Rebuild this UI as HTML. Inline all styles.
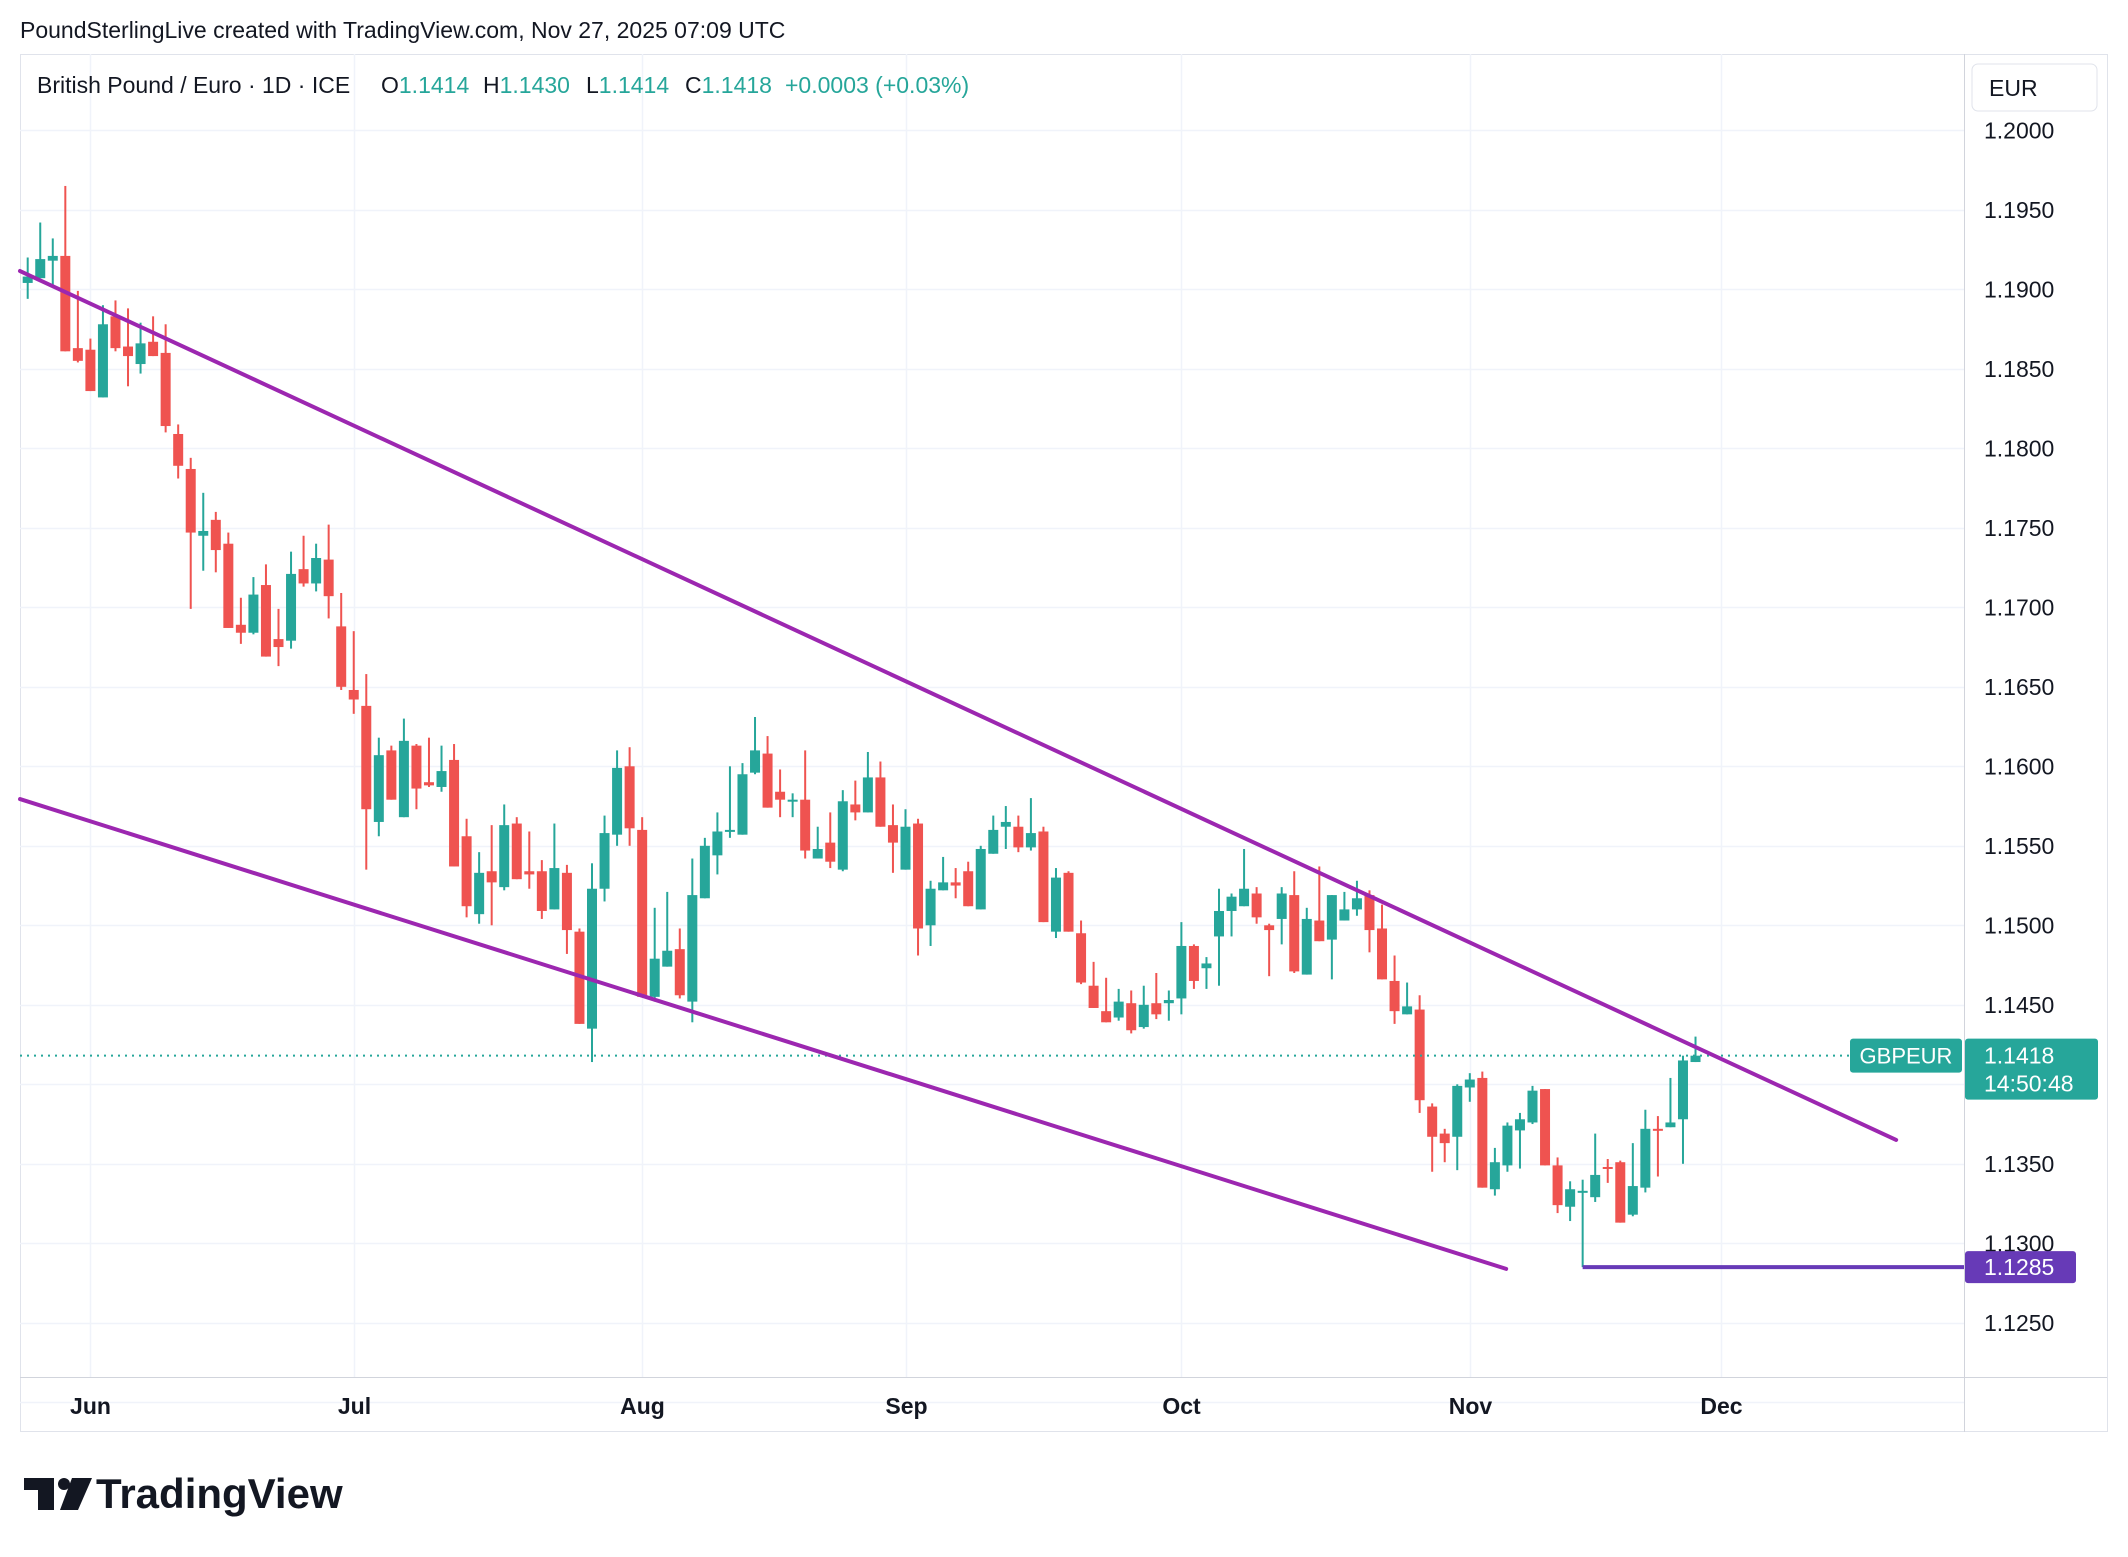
<!DOCTYPE html>
<html><head><meta charset="utf-8"><style>
html,body{margin:0;padding:0;background:#fff;}
body{width:2128px;height:1552px;overflow:hidden;font-family:"Liberation Sans",sans-serif;}
svg text{font-family:"Liberation Sans",sans-serif;}
</style></head><body>
<svg id="chart" width="2128" height="1552" xmlns="http://www.w3.org/2000/svg">
<text x="20" y="38" font-size="23" fill="#131722">PoundSterlingLive created with TradingView.com, Nov 27, 2025 07:09 UTC</text>
<rect x="20.5" y="54.5" width="2087" height="1377" fill="none" stroke="#e0e3eb" stroke-width="1"/>
<g id="grid"></g>
<line x1="1964.5" y1="54" x2="1964.5" y2="1432" stroke="#d1d4dc"/>
<line x1="20" y1="1377.5" x2="2107" y2="1377.5" stroke="#d1d4dc"/>
<g id="candles"></g>
<g id="lines"></g>
<g id="axis"></g>
<g id="taxis"></g>
<g font-size="23">
<text x="37" y="93" fill="#131722">British Pound / Euro · 1D · ICE</text>
<text x="381" y="93" fill="#131722">O<tspan fill="#26a69a">1.1414</tspan></text>
<text x="483" y="93" fill="#131722">H<tspan fill="#26a69a">1.1430</tspan></text>
<text x="586" y="93" fill="#131722">L<tspan fill="#26a69a">1.1414</tspan></text>
<text x="685" y="93" fill="#131722">C<tspan fill="#26a69a">1.1418</tspan></text>
<text x="785" y="93" fill="#26a69a">+0.0003 (+0.03%)</text>
</g>
<rect x="1972" y="64" width="125" height="47" rx="6" fill="#fff" stroke="#e0e3eb"/>
<text x="1989" y="96" font-size="23" fill="#131722">EUR</text>
<text x="96" y="1508" font-size="42" font-weight="bold" fill="#131722">TradingView</text>
<g fill="#131722">
<rect x="24" y="1478" width="30" height="12"/><rect x="38" y="1478" width="16" height="32"/>
<circle cx="64" cy="1484" r="6"/><polygon points="72,1478 92,1478 78,1510 60,1510"/>
</g>
</svg>
<script>
const opens=[1.1904,1.1907,1.1918,1.1921,1.1863,1.1862,1.1832,1.1883,1.1864,1.1853,1.1867,1.1860,1.1809,1.1787,1.1745,1.1755,1.1740,1.1689,1.1684,1.1714,1.1680,1.1679,1.1724,1.1715,1.1730,1.1688,1.1648,1.1638,1.1565,1.1610,1.1568,1.1613,1.1590,1.1587,1.1604,1.1556,1.1507,1.1534,1.1524,1.1564,1.1534,1.1534,1.1510,1.1533,1.1496,1.1435,1.1523,1.1557,1.1600,1.1560,1.1455,1.1474,1.1485,1.1452,1.1517,1.1544,1.1559,1.1557,1.1596,1.1608,1.1584,1.1578,1.1579,1.1542,1.1552,1.1535,1.1576,1.1571,1.1593,1.1563,1.1535,1.1564,1.1500,1.1522,1.1527,1.1534,1.1510,1.1545,1.1562,1.1562,1.1549,1.1559,1.1496,1.1533,1.1495,1.1462,1.1446,1.1442,1.1451,1.1436,1.1451,1.1451,1.1454,1.1487,1.1473,1.1493,1.1509,1.1512,1.1520,1.1500,1.1504,1.1519,1.1469,1.1503,1.1491,1.1503,1.1510,1.1519,1.1498,1.1465,1.1444,1.1447,1.1386,1.1369,1.1367,1.1398,1.1404,1.1334,1.1349,1.1371,1.1376,1.1397,1.1349,1.1323,1.1332,1.1329,1.1348,1.1351,1.1318,1.1335,1.1372,1.1373,1.1378,1.1414];
const highs=[1.1920,1.1942,1.1932,1.1965,1.1899,1.1869,1.1890,1.1893,1.1888,1.1879,1.1883,1.1878,1.1815,1.1794,1.1772,1.1760,1.1747,1.1706,1.1719,1.1727,1.1699,1.1735,1.1745,1.1740,1.1752,1.1709,1.1685,1.1658,1.1618,1.1613,1.1630,1.1614,1.1618,1.1613,1.1614,1.1567,1.1546,1.1563,1.1576,1.1568,1.1559,1.1541,1.1564,1.1538,1.1498,1.1539,1.1569,1.1610,1.1612,1.1568,1.1511,1.1521,1.1498,1.1542,1.1555,1.1571,1.1600,1.1602,1.1631,1.1619,1.1598,1.1583,1.1610,1.1562,1.1571,1.1585,1.1591,1.1609,1.1603,1.1576,1.1573,1.1567,1.1528,1.1543,1.1536,1.1540,1.1550,1.1569,1.1575,1.1569,1.1580,1.1562,1.1536,1.1534,1.1503,1.1477,1.1467,1.1460,1.1459,1.1462,1.1470,1.1459,1.1502,1.1488,1.1480,1.1523,1.1520,1.1548,1.1524,1.1501,1.1524,1.1534,1.1511,1.1537,1.1519,1.1521,1.1528,1.1522,1.1513,1.1481,1.1464,1.1456,1.1388,1.1372,1.1400,1.1407,1.1408,1.1360,1.1376,1.1382,1.1399,1.1397,1.1354,1.1339,1.1340,1.1369,1.1353,1.1352,1.1363,1.1384,1.1380,1.1404,1.1418,1.1430];
const lows=[1.1894,1.1907,1.1903,1.1861,1.1854,1.1836,1.1832,1.1861,1.1839,1.1847,1.1858,1.1810,1.1781,1.1699,1.1723,1.1722,1.1687,1.1677,1.1683,1.1669,1.1663,1.1674,1.1713,1.1710,1.1693,1.1648,1.1633,1.1535,1.1556,1.1579,1.1568,1.1573,1.1587,1.1584,1.1537,1.1505,1.1501,1.1500,1.1522,1.1529,1.1523,1.1504,1.1510,1.1482,1.1438,1.1414,1.1515,1.1550,1.1550,1.1455,1.1452,1.1474,1.1454,1.1439,1.1517,1.1532,1.1555,1.1557,1.1595,1.1574,1.1568,1.1568,1.1542,1.1542,1.1536,1.1534,1.1566,1.1571,1.1562,1.1533,1.1535,1.1481,1.1487,1.1522,1.1517,1.1512,1.1510,1.1545,1.1548,1.1546,1.1547,1.1502,1.1492,1.1496,1.1463,1.1448,1.1439,1.1440,1.1432,1.1435,1.1441,1.1440,1.1444,1.1460,1.1460,1.1462,1.1493,1.1512,1.1501,1.1468,1.1488,1.1470,1.1469,1.1490,1.1466,1.1503,1.1506,1.1483,1.1466,1.1438,1.1444,1.1382,1.1345,1.1351,1.1346,1.1389,1.1335,1.1330,1.1345,1.1347,1.1375,1.1349,1.1319,1.1314,1.1285,1.1326,1.1338,1.1313,1.1317,1.1332,1.1342,1.1373,1.1350,1.1414];
const closes=[1.1908,1.1919,1.1921,1.1861,1.1855,1.1836,1.1878,1.1863,1.1858,1.1866,1.1858,1.1814,1.1789,1.1747,1.1748,1.1736,1.1687,1.1684,1.1708,1.1669,1.1675,1.1721,1.1715,1.1731,1.1707,1.1650,1.1642,1.1573,1.1607,1.1579,1.1616,1.1586,1.1588,1.1597,1.1537,1.1512,1.1533,1.1527,1.1563,1.1529,1.1532,1.1509,1.1536,1.1497,1.1438,1.1523,1.1558,1.1599,1.1561,1.1455,1.1479,1.1484,1.1456,1.1519,1.1550,1.1559,1.1560,1.1595,1.1610,1.1574,1.1579,1.1579,1.1547,1.1548,1.1540,1.1578,1.1571,1.1593,1.1562,1.1552,1.1562,1.1498,1.1523,1.1527,1.1525,1.1512,1.1548,1.1560,1.1565,1.1549,1.1558,1.1502,1.1530,1.1496,1.1464,1.1448,1.1439,1.1452,1.1434,1.1450,1.1444,1.1453,1.1487,1.1465,1.1476,1.1509,1.1518,1.1523,1.1505,1.1497,1.1520,1.1471,1.1504,1.1490,1.1519,1.1510,1.1517,1.1497,1.1466,1.1446,1.1449,1.1390,1.1367,1.1363,1.1399,1.1403,1.1335,1.1351,1.1374,1.1378,1.1396,1.1349,1.1324,1.1334,1.1333,1.1343,1.1347,1.1313,1.1336,1.1372,1.1371,1.1376,1.1415,1.1418];
const priceTicks=["1.2000","1.1950","1.1900","1.1850","1.1800","1.1750","1.1700","1.1650","1.1600","1.1550","1.1500","1.1450","1.1350","1.1300","1.1250"];
const monthLabels=["Jun","Jul","Aug","Sep","Oct","Nov","Dec"];
const monthIndex=[5,26,49,70,92,115,135];
const upperLine=[[-0.614,1.19115],[149,1.1365]];
const lowerLine=[[-0.614,1.15794],[117.9,1.12839]];
const supportLevel=1.1285;
const supportStart=124;
const lastPrice=1.1418;

const NS="http://www.w3.org/2000/svg";
function X(i){return 27.7+i*12.54;}
function Y(p){return 130.3+(1.2-p)/0.005*79.5;}
function mk(tag,attrs,parent){const e=document.createElementNS(NS,tag);for(const k in attrs)e.setAttribute(k,attrs[k]);parent.appendChild(e);return e;}
const grid=document.getElementById('grid'),cg=document.getElementById('candles'),lg=document.getElementById('lines'),ax=document.getElementById('axis'),tx=document.getElementById('taxis');
for(let p=1.2;p>=1.1199;p-=0.005){const y=Math.round(Y(p))+0.5;
 const l=mk('line',{x1:20,x2:1964,y1:y,y2:y,stroke:'#f0f3fa','stroke-width':1.5},grid);
 
 }
monthIndex.forEach((mi,k)=>{const x=Math.round(X(mi))+0.5;
 const l=mk('line',{x1:x,x2:x,y1:54,y2:1377,stroke:'#f0f3fa','stroke-width':1.5},grid);
 
 
 const t=mk('text',{x:x,y:1414,'font-size':23,'font-weight':'bold','text-anchor':'middle',fill:'#131722'},tx);
 t.textContent=monthLabels[k];
 
 });
priceTicks.forEach(s=>{const t=mk('text',{x:1984,y:Y(parseFloat(s))+8,'font-size':23,fill:'#131722'},ax);
 t.textContent=s;
 
 });
for(let i=0;i<opens.length;i++){const up=closes[i]>=opens[i];const c=up?'#26a69a':'#ef5350';const x=X(i);
 const w=mk('rect',{x:x-1,y:Y(highs[i]),width:2,height:Math.max(1,Y(lows[i])-Y(highs[i])),fill:c},cg);
 
 
 const top=Y(Math.max(opens[i],closes[i])),bot=Y(Math.min(opens[i],closes[i]));
 const b=mk('rect',{x:x-5,y:top,width:10,height:Math.max(2,bot-top),fill:c},cg);
 
 }
const dl=mk('line',{x1:20,x2:1964,y1:Y(lastPrice),y2:Y(lastPrice),stroke:'#26a69a','stroke-width':2,'stroke-dasharray':'2 5'},lg);


[[upperLine,'upper-trendline'],[lowerLine,'lower-trendline']].forEach(([ln,nm])=>{
 const l=mk('line',{x1:X(ln[0][0]),y1:Y(ln[0][1]),x2:X(ln[1][0]),y2:Y(ln[1][1]),stroke:'#9c27b0','stroke-width':4,'stroke-linecap':'round'},lg);
 
 });
const sl=mk('line',{x1:X(supportStart),y1:Y(supportLevel),x2:1964,y2:Y(supportLevel),stroke:'#673ab7','stroke-width':4},lg);


const yl=Y(lastPrice);
const g1=mk('rect',{x:1850,y:yl-17,width:112,height:34,rx:3,fill:'#26a69a'},ax);


const t1=mk('text',{x:1906,y:yl+8,'font-size':22,'text-anchor':'middle',fill:'#fff'},ax);t1.textContent='GBPEUR';


const g2=mk('rect',{x:1965,y:yl-17,width:133,height:61,rx:3,fill:'#26a69a'},ax);


const t2=mk('text',{x:1984,y:yl+8,'font-size':23,fill:'#fff'},ax);t2.textContent=lastPrice.toFixed(4);


const t3=mk('text',{x:1984,y:yl+36,'font-size':23,fill:'#fff'},ax);t3.textContent='14:50:48';


const ys=Y(supportLevel);
const g3=mk('rect',{x:1965,y:ys-16,width:111,height:32,rx:3,fill:'#673ab7'},ax);


const t4=mk('text',{x:1984,y:ys+8,'font-size':23,fill:'#fff'},ax);t4.textContent=supportLevel.toFixed(4);


</script>
</body></html>
